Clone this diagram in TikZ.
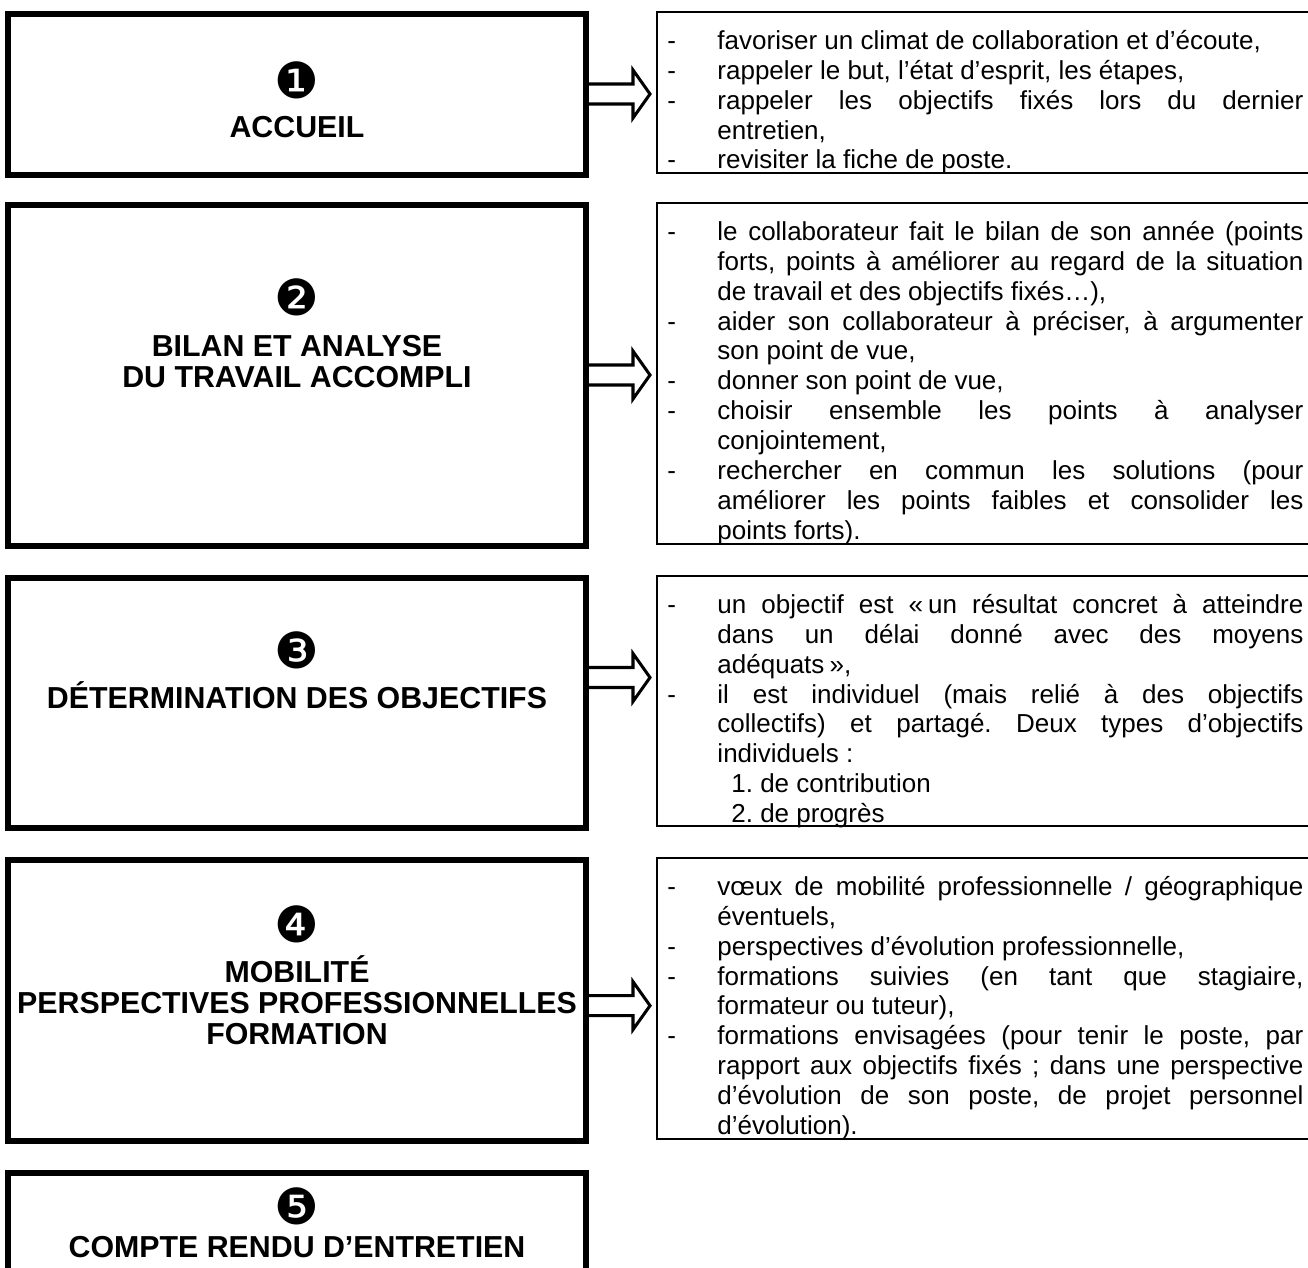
\documentclass[tikz,border=0pt]{standalone}
\usepackage{fontspec}
\usepackage{graphicx}
\setmainfont{Liberation Sans}
\newfontfamily\dingfont{DejaVu Sans}
\usetikzlibrary{calc,fit,backgrounds}

\newcommand\itm[1]{\par\noindent\hangindent=23.1pt\hangafter=1\makebox[23.1pt][l]{\strut-}#1}
\newcommand\sub[1]{\par\noindent\hspace*{29.5pt}\strut#1}
\newcommand\bodysetup{\frenchspacing\hyphenpenalty=10000\exhyphenpenalty=10000\tolerance=10000\hbadness=10000\hfuzz=20pt\parindent=0pt\parskip=0pt}

\tikzset{
  headbox/.style={draw, line width=2.77pt, inner sep=0pt, outer sep=0pt},
  textbox/.style={draw, line width=0.9pt, inner sep=0pt, outer sep=0pt},
  num/.style={inner sep=0pt, font=\dingfont\fontsize{23}{23}\selectfont},
  head/.style={inner sep=0pt, anchor=base, font=\fontsize{14}{16}\selectfont\bfseries},
  body/.style={inner sep=0pt, anchor=north west, text width=293.5pt, align=justify, font=\fontsize{12}{13.8}\selectfont},
  barrow/.style={draw, fill=white, line width=1.4pt, line join=miter},
}

\begin{document}
\begin{tikzpicture}[x=0.4615pt, y=-0.4615pt]
\useasboundingbox (0,0) rectangle (1308,1267);
\clip (0,0) rectangle (1308,1267);

% ---- left boxes
\node[headbox, fit={(8,13.5) (586,174.5)}] (b1) {};
\node[headbox, fit={(8,204.5) (586,545.5)}] (b2) {};
\node[headbox, fit={(8,577.5) (586,827.5)}] (b3) {};
\node[headbox, fit={(8,859.5) (586,1140.5)}] (b4) {};
\node[headbox, fit={(8,1172.5) (586,1400)}] (b5) {};

% ---- right text boxes
\node[textbox, fit={(657,12) (1400,173)}] (t1) {};
\node[textbox, fit={(657,203) (1400,544)}] (t2) {};
\node[textbox, fit={(657,576) (1400,826)}] (t3) {};
\node[textbox, fit={(657,858) (1400,1139)}] (t4) {};

% ---- headings
\node[num] (n1) at (297,80) {❶};
\node[head] (h1) at (297,137) {ACCUEIL};

\node[num] (n2) at (297,297) {❷};
\node[head] (h2a) at (297,356) {BILAN ET ANALYSE};
\node[head] (h2b) at (297,387) {DU TRAVAIL ACCOMPLI};

\node[num] (n3) at (297,650) {❸};
\node[head] (h3) at (297,708) {DÉTERMINATION DES OBJECTIFS};

\node[num] (n4) at (297,924) {❹};
\node[head] (h4a) at (297,982) {MOBILITÉ};
\node[head] (h4b) at (297,1013) {PERSPECTIVES PROFESSIONNELLES};
\node[head] (h4c) at (297,1044) {FORMATION};

\node[num] (n5) at (297,1206) {❺};
\node[head] (h5) at (297,1257) {COMPTE RENDU D’ENTRETIEN};

% ---- body texts
\node[body] (x1) at (667,19) {\bodysetup
\itm{favoriser un climat de collaboration et d’écoute,}
\itm{rappeler le but, l’état d’esprit, les étapes,}
\itm{rappeler les objectifs fixés lors du dernier\linebreak entretien,}
\itm{revisiter la fiche de poste.}\par};

\node[body] (x2) at (667,210) {\bodysetup
\itm{le collaborateur fait le bilan de son année (points\linebreak forts, points à améliorer au regard de la situation\linebreak de travail et des objectifs fixés…),}
\itm{aider son collaborateur à préciser, à argumenter\linebreak son point de vue,}
\itm{donner son point de vue,}
\itm{choisir ensemble les points à analyser\linebreak conjointement,}
\itm{rechercher en commun les solutions (pour\linebreak améliorer les points faibles et consolider les\linebreak points forts).}\par};

\node[body] (x3) at (667,583) {\bodysetup
\itm{un objectif est «\hspace{0.2em}un résultat concret à atteindre\linebreak dans un délai donné avec des moyens\linebreak adéquats\hspace{0.2em}»,}
\itm{il est individuel (mais relié à des objectifs\linebreak collectifs) et partagé. Deux types d’objectifs\linebreak individuels :}
\sub{1. de contribution}
\sub{2. de progrès}\par};

\node[body] (x4) at (667,865) {\bodysetup
\itm{vœux de mobilité professionnelle / géographique\linebreak éventuels,}
\itm{perspectives d’évolution professionnelle,}
\itm{formations suivies (en tant que stagiaire,\linebreak formateur ou tuteur),}
\itm{formations envisagées (pour tenir le poste, par\linebreak rapport aux objectifs fixés ; dans une perspective\linebreak d’évolution de son poste, de projet personnel\linebreak d’évolution).}\par};

% ---- block arrows
\coordinate (a1) at ($(b1.north east)!0.5!(b1.south east)$);
\coordinate (a2) at ($(b2.north east)!0.5!(b2.south east)$);
\coordinate (a3) at ($(b3.north east)!0.4!(b3.south east)$);
\coordinate (a4) at ($(b4.north east)!0.52!(b4.south east)$);
\begin{scope}[on background layer]
\foreach \a in {a1,a2,a3,a4}{
  \draw[barrow] (\a) ++(0,-10) -- ++(47,0) -- ++(0,-14) -- ++(17,24) -- ++(-17,24) -- ++(0,-14) -- ++(-47,0) -- cycle;
}
\end{scope}
\end{tikzpicture}
\end{document}
